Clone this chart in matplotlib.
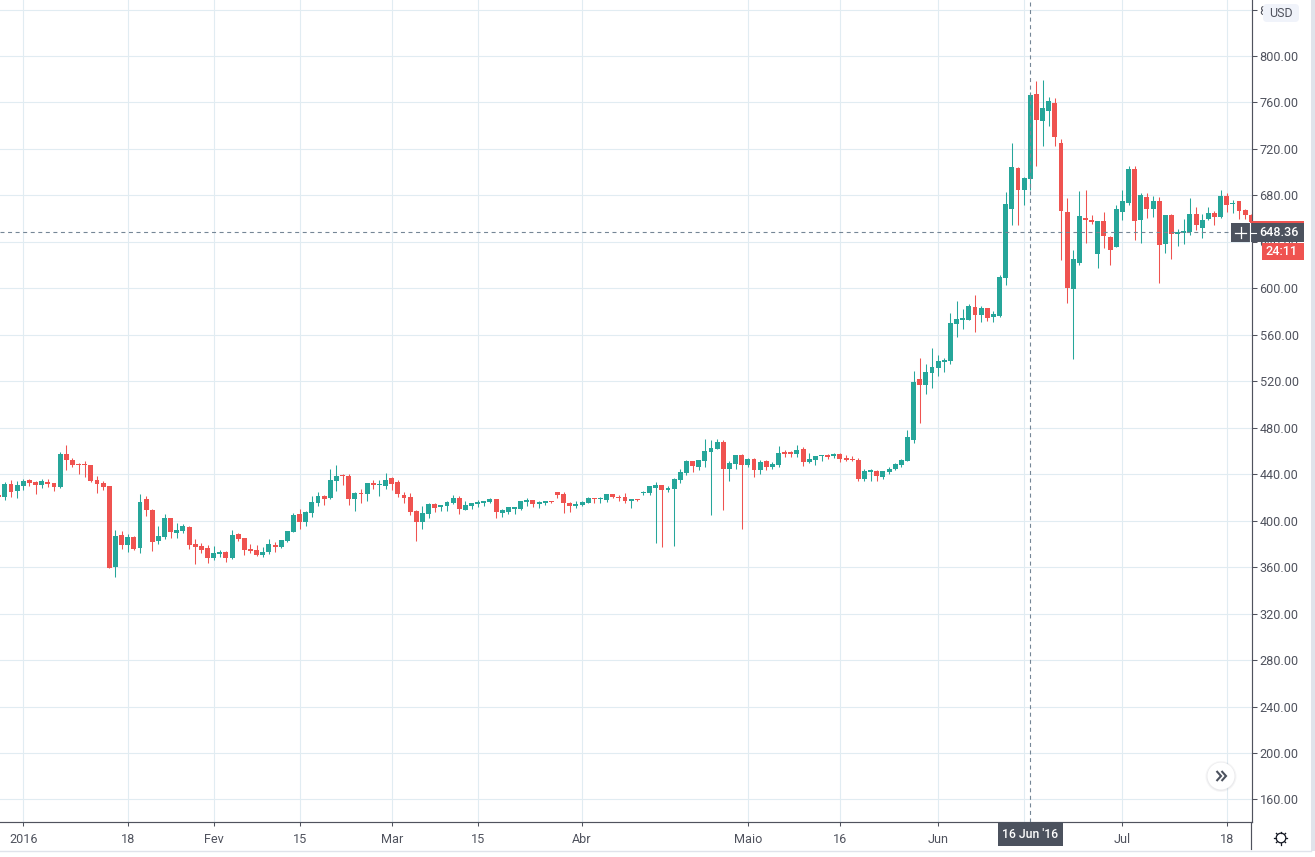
"""BTC/USD daily candles, early 2016, drawn in the style of a trading terminal."""
import numpy as np
import matplotlib
matplotlib.use("Agg")
import matplotlib.pyplot as plt
from matplotlib.patches import Circle, FancyBboxPatch, Rectangle

plt.rcParams["font.family"] = ["Roboto", "DejaVu Sans"]

opens = [
    422.2, 420.5, 431.7, 425.7,
    430, 435.1, 433.4, 430.8, 433.4, 432.5, 429.1, 457.5, 452.3, 449.2,
    448, 448, 435.1, 432.5, 430, 360.2, 387.8, 379.2, 386, 376.6,
    418.8, 409.3, 382.6, 386, 402.4, 389.5, 391.2, 394.6, 380, 378.3,
    376.6, 368, 371.4, 373.1, 368, 388.6, 385.2, 375.7, 374.9, 370.5,
    373.1, 379.2, 377.4, 382.6, 390.3, 405.8, 399, 406.7, 415.3, 421.5,
    419.8, 434.3, 439.1, 438.6, 418.9, 424, 423.2, 432.6, 430.9, 430,
    436.9, 433.4, 422.3, 420.6, 408.7, 399.2, 406.1, 414.6, 412, 412.9,
    415.5, 419.8, 409.5, 412.9, 414.6, 415.5, 416.3, 418.9, 406.9, 407.8,
    410.4, 410.4, 416.3, 418.1, 414.6, 415.5, 417.2, 424.9, 423.2, 415.5,
    412.9, 413.8, 415.5, 419.8, 418.6, 418.1, 423.2, 420.6, 420.6, 417,
    418.7, 423.9, 423.9, 428.2, 430.8, 426.5, 427.3, 435.1, 441.2, 451.5,
    446.3, 451.5, 459.3, 461.9, 467.9, 444.6, 448.9, 456.7, 448.1, 453.2,
    443.7, 451.5, 446.3, 448.1, 459.3, 459.3, 457.6, 461.9, 450.6, 452.4,
    455.3, 456.7, 455.8, 457.6, 454.1, 453, 452.4, 436, 442, 442.9,
    437.7, 442, 444.6, 448.1, 451.5, 469.3, 522, 516.8, 527.2, 531.5,
    536.7, 537.6, 569.5, 573, 573, 584.2, 577.3, 583.3, 575.5, 576.4,
    609, 668.3, 703.6, 684.6, 694.1, 767.2, 744, 752.6, 759.4, 725,
    665.7, 599.6, 621.9, 660.6, 658.9, 629.6, 658, 644.3, 635.7, 665.7,
    673.4, 702.6, 658.8, 678.6, 668.2, 675.1, 638.1, 663.1, 646.7, 647.6,
    648.5, 663.9, 651.9, 659.6, 664.8, 661.4, 679.4, 672.8, 675.1, 667.4,
    663,
]
closes = [
    420.5, 431.7, 424.8, 430.8,
    434.3, 432.5, 430.8, 434.3, 431.7, 429.1, 457.5, 452.3, 448, 448.3,
    447.5, 434.3, 431.7, 429.1, 359.4, 386.9, 379.2, 386, 375.7, 416.2,
    409.3, 381.7, 386.9, 402.4, 390.3, 392, 395.5, 379.2, 377.4, 374.9,
    368, 372.3, 373.1, 368, 387.8, 384.3, 374.9, 374, 370.5, 373.1,
    380, 377.4, 383.5, 391.2, 405, 399, 407.6, 416.2, 421.4, 419,
    435.2, 438.6, 438.3, 418.9, 424, 423.2, 432.6, 430.9, 431.7, 435.2,
    431.7, 423.2, 419.8, 407.8, 399.2, 406.9, 414.6, 411.2, 413.8, 416.3,
    419.8, 410.4, 413.8, 415.5, 416.3, 417.2, 418.9, 407.8, 409.5, 412,
    412, 417.2, 418.1, 414.6, 416.3, 417.2, 416.3, 422.3, 415.5, 412.9,
    414.6, 416.3, 419.8, 418.9, 419.2, 423.2, 420.6, 419.8, 417.2, 418.7,
    417.8, 424.7, 429.9, 430.8, 426.5, 428.2, 436, 442, 451.5, 447.2,
    452.4, 460.1, 462.7, 467.9, 444.6, 449.8, 456.7, 448.1, 453.2, 443.7,
    450.6, 446.3, 448.9, 458.4, 457.6, 457.6, 461, 450.6, 453.2, 455.8,
    455.8, 455, 457.6, 453.2, 452.4, 452.4, 436, 442.9, 443.7, 438.6,
    442.9, 444.6, 448.9, 452.4, 472.2, 519.4, 516.8, 528.1, 532.4, 537.6,
    538.4, 570.4, 573.8, 574.7, 585, 577.3, 583.3, 574.7, 578.1, 609.9,
    672.6, 704.4, 684.6, 695, 766.3, 744.8, 755.1, 761.1, 730.2, 666.6,
    600.4, 625.3, 662.3, 658.9, 657.1, 658, 645.1, 633.1, 668.3, 675.1,
    702.6, 657.9, 680.3, 668.2, 675.1, 637.3, 663.1, 646.7, 648.5, 649.3,
    663.9, 654.5, 658.8, 664.8, 661.4, 679.4, 671.7, 673.4, 666.5, 663.1,
    657,
]
highs = [
    423, 433.4, 435.1, 434.3,
    436, 436, 434.3, 436, 436, 432.5, 459.2, 465.3, 454, 449.8,
    451.5, 448, 438.6, 434.3, 430, 392, 391.2, 388.6, 386.9, 423.1,
    421.4, 410.2, 395.5, 405.8, 402.4, 398.1, 397.2, 395.5, 384.3, 380.9,
    379.2, 378.3, 374.9, 374, 392, 389.5, 385.2, 380, 379.2, 377.4,
    384.3, 381.7, 383.5, 391.2, 406.7, 410.2, 408.5, 421.4, 424.8, 422.4,
    444.6, 448, 440, 440.3, 424.9, 427.5, 432.6, 435.2, 435.2, 441.1,
    437.7, 435.2, 424.9, 424, 409.5, 412.9, 415.5, 415.5, 413.8, 417.2,
    422.3, 421.5, 417.2, 415.5, 418.1, 417.2, 419.8, 418.9, 410.4, 412,
    412, 417.2, 419.8, 418.1, 417.2, 417.2, 417.2, 424.9, 424.9, 416.3,
    417.2, 417.2, 420.6, 419.8, 420.6, 423.2, 423.2, 422.3, 424, 418.7,
    418.7, 425.6, 429.9, 433.4, 430.8, 429.9, 436.8, 444.6, 452.4, 451.5,
    452.4, 470.5, 469.6, 470.5, 469.6, 451.5, 456.7, 457.6, 454.1, 454.1,
    452.4, 452.4, 450.6, 464.5, 461, 460.1, 465.3, 463.6, 458.4, 455.8,
    456.7, 457.6, 458.4, 458.4, 456.7, 455.8, 454.1, 444.6, 444.6, 443.7,
    442.9, 446.3, 449.8, 453.2, 478.3, 528.9, 540.1, 535, 548.8, 542.7,
    540.1, 579, 589.4, 582.5, 586.8, 594.5, 585, 583.3, 580.7, 611.6,
    682.9, 725, 704.4, 695.8, 768.9, 778.3, 779.2, 764.6, 763.7, 728.5,
    677.8, 633.1, 683.8, 684.6, 663.2, 658, 665.7, 645.1, 671.8, 684.6,
    705.2, 705.2, 682, 682, 679.4, 678.6, 663.1, 663.9, 651, 659.6,
    677.7, 670, 663.9, 670, 666.5, 684.6, 682, 676, 675.1, 668.2,
    664,
]
lows = [
    420, 418.2, 420.5, 419.6,
    426.5, 430, 423.1, 428.2, 429.1, 425.7, 428.2, 443.7, 446.3, 440.3,
    437.7, 433.4, 423.9, 426.5, 359.4, 351.6, 375.7, 373.1, 374.9, 372.3,
    404.1, 374, 380, 384.3, 385.2, 385.2, 389.5, 375.7, 362.8, 372.3,
    363.7, 366.2, 368.8, 364.5, 367.1, 382.6, 370.5, 372.3, 369.7, 368.8,
    371.4, 373.1, 376.6, 381.7, 390.3, 392.9, 395.5, 403.3, 412.7, 413.8,
    418.9, 425.8, 430.9, 413.8, 408.7, 415.5, 417.2, 427.5, 421.5, 427.5,
    426.6, 420.6, 415.5, 405.2, 382.1, 392.4, 402.7, 407.8, 408.7, 408.7,
    414.6, 406.1, 409.5, 410.4, 412, 412.9, 415.5, 402.7, 403.5, 406.1,
    406.1, 409.5, 412.9, 412, 411.2, 413.8, 415.5, 419.8, 406.9, 407.8,
    411.2, 412.9, 415.5, 415.5, 415.5, 416.3, 419.8, 417.2, 415.5, 410.9,
    417, 422.2, 422.2, 380.7, 377.3, 424.7, 378.1, 432.5, 439.4, 442,
    443.7, 446.3, 404.9, 461.9, 409.2, 434.2, 444.6, 392.8, 446.3, 437.7,
    440.3, 443.7, 444.6, 446.3, 455, 455, 455, 447.2, 449.8, 448.1,
    451.5, 453.2, 454.1, 450.6, 451.5, 451.5, 434.2, 434.2, 434.2, 434.2,
    436, 440.3, 443.7, 446.3, 451.5, 466.8, 484, 509.1, 514.2, 524.6,
    528.1, 535, 558.3, 565.2, 573, 562.6, 571.2, 572.1, 571.2, 575.5,
    603, 654.6, 654.6, 671.8, 684.6, 705.3, 722.5, 739.7, 722.5, 624.5,
    587.5, 539.4, 620.2, 639.1, 655.4, 617.6, 634.8, 620.2, 635.7, 658.8,
    671.7, 641.6, 639, 660.5, 661.4, 604.6, 630.4, 625.2, 636.4, 638.1,
    645.9, 650.2, 643.3, 658.8, 654.5, 660.5, 665.7, 664.8, 659.6, 659.6,
    650,
]

first_bar = -4
date_ticks = [0, 17, 31, 45, 60, 74, 91, 118, 133, 149, 163, 179, 196]
date_labels = ["2016", "18", "Fev", "15", "Mar", "15", "Abr", "Maio", "16", "Jun", "", "Jul", "18"]
price_ticks = list(range(160, 841, 40))
cross_bar = 164
cross_price = 648.36

GREEN = "#26a69a"
RED = "#ef5350"
GRID = "#e1ecf2"
AXIS = "#50535e"
TEXT = "#50535e"
DARK = "#4c525e"

W, H = 1315, 857
fig = plt.figure(figsize=(W / 100, H / 100), dpi=100, facecolor="white")
ax = fig.add_axes([0, 1 - 822 / H, 1251.5 / W, 822 / H])

opens = np.array(opens)
closes = np.array(closes)
highs = np.array(highs)
lows = np.array(lows)
bars = np.arange(first_bar, first_bar + len(opens))
colors = np.where(closes >= opens, GREEN, RED)

ax.vlines(bars, lows, highs, colors=colors, linewidth=0.75, zorder=3)
ax.bar(bars, np.maximum(np.abs(closes - opens), 0.9), bottom=np.minimum(opens, closes),
       width=0.8, color=colors, linewidth=0, zorder=4)

# crosshair
ax.axvline(cross_bar, color="#758696", lw=0.8, dashes=(3.6, 3.2), zorder=5)
ax.axhline(cross_price, color="#758696", lw=0.8, dashes=(3.6, 3.2), zorder=5)

ax.set_xlim(-3.795, 200.03)
ax.set_ylim(140.6, 848.2)
ax.yaxis.tick_right()
ax.set_yticks(price_ticks)
ax.set_yticklabels([f"{p:.2f}" for p in price_ticks])
ax.set_xticks(date_ticks)
ax.set_xticklabels(date_labels)
ax.tick_params(axis="y", length=3.6, width=0.75, color=AXIS, labelcolor=TEXT, labelsize=9.1, pad=2.2)
ax.tick_params(axis="x", length=3, width=0.75, color=AXIS, labelcolor=TEXT, labelsize=9.1, pad=4.6)
ax.grid(True, color=GRID, lw=0.8, zorder=0)
ax.set_axisbelow(True)
for side in ("top", "left"):
    ax.spines[side].set_visible(False)
for side in ("right", "bottom"):
    ax.spines[side].set_color(AXIS)
    ax.spines[side].set_linewidth(0.85)

# interface furniture, in pixel coordinates
ui = fig.add_axes([0, 0, 1, 1], facecolor="none", zorder=10)
ui.set_xlim(0, W)
ui.set_ylim(H, 0)
ui.axis("off")

ui.plot([1251.5, 1251.5], [822, 849], color=AXIS, lw=0.85)
ui.plot([0, 1311], [850.5, 850.5], color="#e0e3eb", lw=1.0)
ui.add_patch(Rectangle((1311, 0), 4, 851, color="#e0e3eb", lw=0))

ui.add_patch(FancyBboxPatch((1265, 6), 32, 14, boxstyle="round,pad=2,rounding_size=4",
                            fc="#f0f3fa", ec="none"))
ui.text(1281, 13.5, "USD", color=TEXT, fontsize=9, ha="center", va="center")

# last price and crosshair price tags
ui.add_patch(Rectangle((1250, 221), 54, 3, color=RED, lw=0))
ui.add_patch(Rectangle((1231, 223), 73, 19, color=DARK, lw=0))
ui.plot([1250.5, 1250.5], [223, 242], color="white", lw=0.8)
ui.plot([1251, 1256], [232.5, 232.5], color="white", lw=0.8)
ui.plot([1241, 1241], [227, 238], color="white", lw=0.9)
ui.plot([1235.5, 1246.5], [232.5, 232.5], color="white", lw=0.9)
ui.text(1278.5, 232.8, f"{cross_price:.2f}", color="white", fontsize=9.1, fontweight="medium",
        ha="center", va="center")
ui.add_patch(Rectangle((1262, 243), 42, 17, color=RED, lw=0))
ui.text(1281.7, 251.8, "24:11", color="white", fontsize=9.1, fontweight="medium",
        ha="center", va="center")

# crosshair date tag
ui.add_patch(Rectangle((998, 822), 65, 24, color=DARK, lw=0))
ui.text(1030.5, 834, "16 Jun '16", color="white", fontsize=8.8, fontweight="medium",
        ha="center", va="center")

# scroll-to-latest button
for r, a in ((15.5, 0.04), (14.5, 0.05)):
    ui.add_patch(Circle((1221, 776.5), r, fc="#2a2e39", ec="none", alpha=a))
ui.add_patch(Circle((1221, 776), 13.5, fc="white", ec="none"))
for dx in (-4.5, 0.5):
    ui.plot([1221 + dx, 1221 + dx + 4.5, 1221 + dx], [771, 776, 781], color=DARK, lw=1.5,
            solid_capstyle="butt", solid_joinstyle="miter")

# settings button
ui.add_patch(Circle((1281, 838), 4.8, fc="none", ec="#131722", lw=0.9))
for angle in np.deg2rad(np.arange(0, 360, 45)):
    ui.plot([1281 + 4.8 * np.cos(angle), 1281 + 6.5 * np.cos(angle)],
            [838 + 4.8 * np.sin(angle), 838 + 6.5 * np.sin(angle)], color="#131722", lw=0.9)

fig.savefig("out.png", dpi=100, facecolor="white")
